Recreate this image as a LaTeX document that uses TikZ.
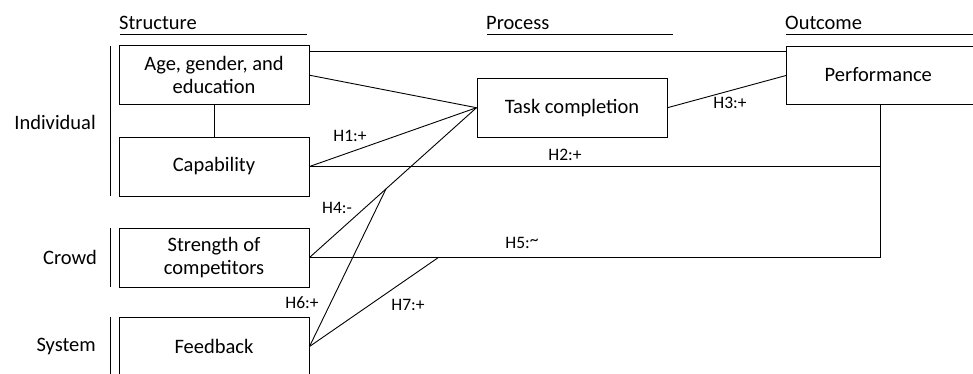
\documentclass[tikz,border=0pt]{standalone}
\usepackage{fontspec}
\setmainfont{Carlito}
\usetikzlibrary{calc}
\begin{document}
\begin{tikzpicture}[x=1pt,y=-1pt,
  box/.style={draw, line width=1pt, minimum width=190pt, minimum height=59pt, inner sep=0pt, align=center, font=\fontsize{20.5}{23}\selectfont},
  lbl/.style={font=\fontsize{20.5}{23}\selectfont, inner sep=0pt},
  hyp/.style={font=\fontsize{17.5}{20}\selectfont, inner sep=0pt},
  conn/.style={line width=0.9pt},
  rule/.style={line width=1pt}]
\useasboundingbox (0,0) rectangle (973,373);
\begin{scope}
\clip (0,0) rectangle (973,373);
% headings
\node[lbl, anchor=west] (hs) at (119,23) {Structure};
\node[lbl, anchor=west] (hp) at (486,23) {Process};
\node[lbl, anchor=west] (ho) at (785,23) {Outcome};
\draw[rule] (120,34.7) -- (307,34.7);
\draw[rule] (487,34.7) -- (673,34.7);
\draw[rule] (786,34.7) -- (980,34.7);
% side labels and bars
\node[lbl, anchor=east] (li) at (96,122) {Individual};
\node[lbl, anchor=east] (lc) at (97,257) {Crowd};
\node[lbl, anchor=east] (ls) at (96,346) {System};
\draw[rule] (110,46) -- (110,196);
\draw[rule] (110,228) -- (110,287);
\draw[rule] (110,317) -- (110,380);
% boxes
\node[box] (age) at (214,75.2) {Age, gender, and\\education};
\node[box] (cap) at (214,166.5) {Capability};
\node[box] (str) at (214,257.5) {Strength of\\competitors};
\node[box] (fb) at (214,346.5) {Feedback};
\node[box] (task) at (572,107.7) {Task completion};
\node[box, minimum width=200pt, minimum height=58.6pt, anchor=north west] (perf) at (786,45.7) {};
\node[lbl] (perftext) at (878.3,75) {Performance};
% connectors
\coordinate (pb) at ([xshift=94.7pt]perf.south west);
\coordinate (tl) at ($(age.north east)+(0,6.6)$);
\draw[conn] (tl) -- (tl -| perf.west);
\draw[conn] (age.south) -- (cap.north);
\draw[conn] (age.east) -- (task.west);
\draw[conn] (cap.east) -- (task.west);
\draw[conn] (task.east) -- (perf.west);
\draw[conn] (cap.east) -- (cap.east -| pb) -- (pb);
\draw[conn] (str.east) -- (str.east -| pb) -- (cap.east -| pb);
\draw[conn] (str.east) -- (task.west);
\coordinate (m4) at ($(str.east)!0.458!(task.west)$);
\coordinate (m5) at ($(str.east)!0.2256!(str.east -| pb)$);
\draw[conn] (fb.east) -- (m4);
\draw[conn] (fb.east) -- (m5);
% hypothesis labels
\node[hyp] (h1) at (350,136) {H1:+};
\node[hyp] (h2) at (565,155) {H2:+};
\node[hyp] (h3) at (730,103) {H3:+};
\node[hyp] (h4) at (337,208) {H4:-};
\node[hyp] (h5) at (522,243) {H5:\raisebox{3pt}{\textasciitilde}};
\node[hyp] (h6) at (302,303) {H6:+};
\node[hyp] (h7) at (408,305) {H7:+};
\end{scope}
\end{tikzpicture}
\end{document}
